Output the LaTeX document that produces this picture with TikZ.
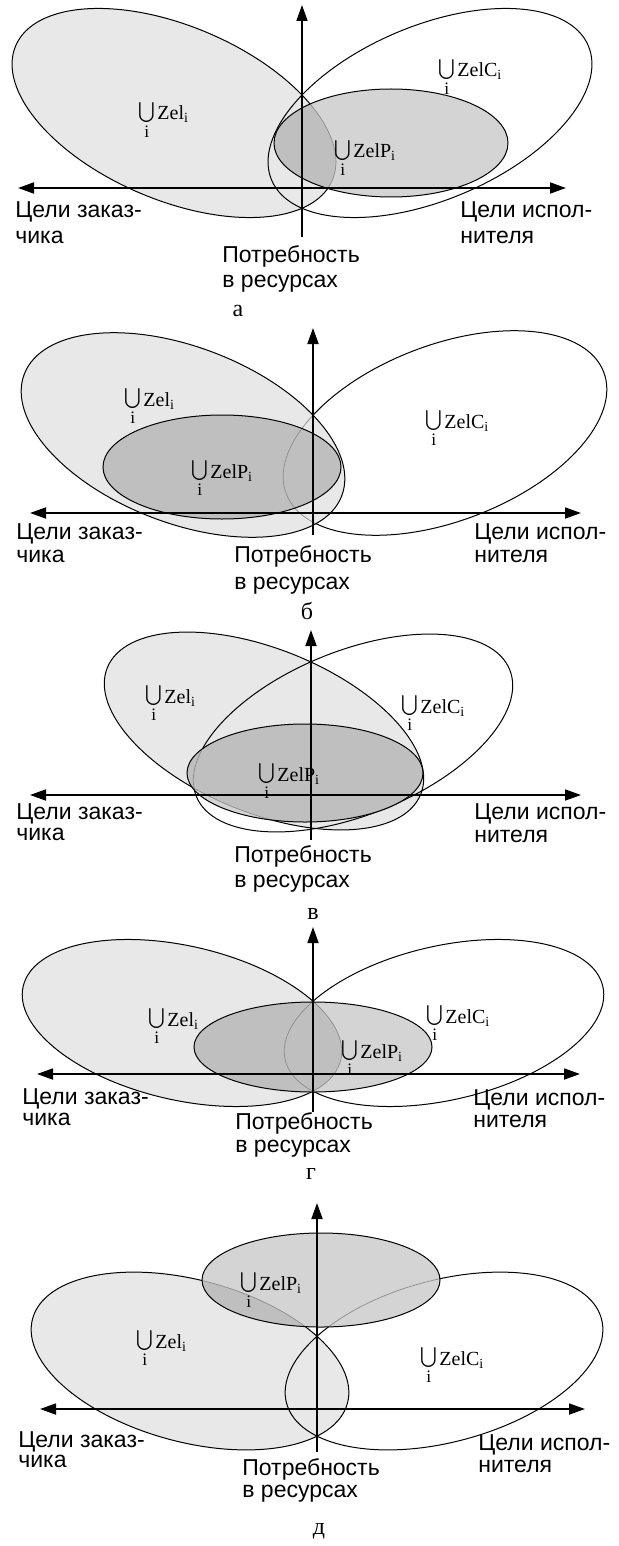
\documentclass[tikz,border=0pt]{standalone}
\usepackage{fontspec}
\setmainfont{Liberation Serif}
\newfontfamily\axfont{Liberation Sans}
\usetikzlibrary{arrows.meta}
\newcommand{\Ell}[5]{\path[#5,rotate around={#4:(#1)}] (#1) ellipse [x radius=#2, y radius=#3];}
\newcommand{\Un}[1]{\begingroup\fontsize{12.5}{14}\selectfont\raisebox{0.8pt}{$\bigcup\limits_{\mathrm{i}}$}\endgroup\hspace{1.2pt}#1\textsubscript{i}}
% panel a
\newcommand{\ZelA}[1]{\Ell{aZc}{86pt}{43.5pt}{-23}{#1}}
\newcommand{\ZelCA}[1]{\Ell{aCc}{86pt}{43.5pt}{23}{#1}}
\newcommand{\ZelPA}[1]{\Ell{aPc}{58.5pt}{27pt}{0}{#1}}
% panel b
\newcommand{\ZelB}[1]{\Ell{bZc}{85pt}{44pt}{-21}{#1}}
\newcommand{\ZelCB}[1]{\Ell{bCc}{85pt}{44pt}{21}{#1}}
\newcommand{\ZelPB}[1]{\Ell{bPc}{59.5pt}{26pt}{0}{#1}}
% panel c
\newcommand{\ZelV}[1]{\Ell{cZc}{84.5pt}{41pt}{-22}{#1}}
\newcommand{\ZelCV}[1]{\Ell{cCc}{84.5pt}{41pt}{22}{#1}}
\newcommand{\ZelPV}[1]{\Ell{cPc}{59pt}{24.5pt}{0}{#1}}
% panel d
\newcommand{\ZelG}[1]{\Ell{dZc}{81.5pt}{38.5pt}{-13}{#1}}
\newcommand{\ZelCG}[1]{\Ell{dCc}{81.5pt}{38.5pt}{13}{#1}}
\newcommand{\ZelPG}[1]{\Ell{dPc}{59.5pt}{22.5pt}{0}{#1}}
% panel e
\newcommand{\ZelD}[1]{\Ell{eZc}{81.5pt}{40.5pt}{-15}{#1}}
\newcommand{\ZelCD}[1]{\Ell{eCc}{81.5pt}{40.5pt}{15}{#1}}
\newcommand{\ZelPD}[1]{\Ell{ePc}{59.5pt}{23.5pt}{0}{#1}}
\begin{document}
\begin{tikzpicture}[x=0.5pt,y=-0.5pt,
  zelfill/.style={fill=black!9},
  outl/.style={draw=black,line width=0.5pt},
  faded/.style={draw=black!45,line width=0.35pt},
  pw/.style={fill=black!17},
  pz/.style={fill=black!25},
  haxis/.style={line width=0.9pt,{Triangle[length=8pt,width=5.5pt]}-{Triangle[length=8pt,width=5.5pt]}},
  vaxis/.style={line width=0.9pt,-{Triangle[length=8pt,width=5.5pt]}},
  axl/.style={font=\axfont\fontsize{11.5}{13}\selectfont,anchor=base west,inner sep=0pt},
  ulbl/.style={font=\fontsize{10}{12}\selectfont,anchor=base west,inner sep=0pt},
  plbl/.style={font=\fontsize{12}{14}\selectfont,anchor=base,inner sep=0pt}]
\fill[white] (0,0) rectangle (618,1546);
\useasboundingbox (0,0) rectangle (618,1546);

% ================= panel a =================
\coordinate (aZc) at (174,113);
\coordinate (aCc) at (430,113);
\coordinate (aPc) at (391,143);
\ZelA{zelfill}
\ZelA{outl}
\ZelCA{outl}
\ZelPA{pw}
\begin{scope}\ZelA{clip}\ZelPA{pz}\end{scope}
\begin{scope}\ZelPA{clip}\ZelA{faded}\ZelCA{faded}\end{scope}
\ZelPA{outl}
\coordinate (aHL) at (18,188);
\coordinate (aHR) at (566,188);
\coordinate (aVB) at (302,237);
\coordinate (aVT) at (302,5);
\draw[haxis] (aHL) -- (aHR);
\draw[vaxis] (aVB) -- (aVT);
\node[ulbl] (aLz) at (138,120) {\Un{Zel}};
\node[ulbl] (aLc) at (438,77) {\Un{ZelC}};
\node[ulbl] (aLp) at (334,158) {\Un{ZelP}};
\node[axl] (aT1) at (15,218) {Цели заказ-};
\node[axl] (aT2) at (15,243) {чика};
\node[axl] (aT3) at (460,218) {Цели испол-};
\node[axl] (aT4) at (460,243) {нителя};
\node[axl] (aT5) at (222,263) {Потребность};
\node[axl] (aT6) at (222,287) {в ресурсах};
\node[plbl] (aN) at (238,316) {а};

% ================= panel b =================
\coordinate (bZc) at (183,435);
\coordinate (bCc) at (445,433);
\coordinate (bPc) at (222,467);
\ZelCB{outl}
\ZelB{zelfill}
\begin{scope}\ZelB{clip}\ZelCB{faded}\end{scope}
\ZelB{outl}
\ZelPB{pw}
\begin{scope}\ZelB{clip}\ZelPB{pz}\end{scope}
\begin{scope}\ZelPB{clip}\ZelB{faded}\ZelCB{faded}\end{scope}
\ZelPB{outl}
\coordinate (bHL) at (30,513);
\coordinate (bHR) at (581,513);
\coordinate (bVB) at (313,535);
\coordinate (bVT) at (313,328);
\draw[haxis] (bHL) -- (bHR);
\draw[vaxis] (bVB) -- (bVT);
\node[ulbl] (bLz) at (124,406) {\Un{Zel}};
\node[ulbl] (bLc) at (425,428) {\Un{ZelC}};
\node[ulbl] (bLp) at (191,478) {\Un{ZelP}};
\node[axl] (bT1) at (16,539) {Цели заказ-};
\node[axl] (bT2) at (16,562) {чика};
\node[axl] (bT3) at (474,539) {Цели испол-};
\node[axl] (bT4) at (474,562) {нителя};
\node[axl] (bT5) at (234,562) {Потребность};
\node[axl] (bT6) at (234,589) {в ресурсах};
\node[plbl] (bN) at (307,619) {б};

% ================= panel c =================
\coordinate (cZc) at (264,731);
\coordinate (cCc) at (353,733);
\coordinate (cPc) at (305,773);
\ZelV{zelfill}
\ZelV{outl}
\ZelCV{outl}
\ZelPV{pw}
\begin{scope}\ZelV{clip}\ZelPV{pz}\end{scope}
\begin{scope}\ZelPV{clip}\ZelV{faded}\ZelCV{faded}\end{scope}
\ZelPV{outl}
\coordinate (cHL) at (30,795);
\coordinate (cHR) at (581,795);
\coordinate (cVB) at (311,840);
\coordinate (cVT) at (311,630);
\draw[haxis] (cHL) -- (cHR);
\draw[vaxis] (cVB) -- (cVT);
\node[ulbl] (cLz) at (145,703) {\Un{Zel}};
\node[ulbl] (cLc) at (401,713) {\Un{ZelC}};
\node[ulbl] (cLp) at (258,781) {\Un{ZelP}};
\node[axl] (cT1) at (16,819) {Цели заказ-};
\node[axl] (cT2) at (16,840) {чика};
\node[axl] (cT3) at (474,819) {Цели испол-};
\node[axl] (cT4) at (474,842) {нителя};
\node[axl] (cT5) at (234,862) {Потребность};
\node[axl] (cT6) at (234,887) {в ресурсах};
\node[plbl] (cN) at (313,919) {в};

% ================= panel d =================
\coordinate (dZc) at (182,1023);
\coordinate (dCc) at (444,1023);
\coordinate (dPc) at (313,1047);
\ZelG{zelfill}
\ZelG{outl}
\ZelCG{outl}
\ZelPG{pw}
\begin{scope}\ZelG{clip}\ZelPG{pz}\end{scope}
\begin{scope}\ZelPG{clip}\ZelG{faded}\ZelCG{faded}\end{scope}
\ZelPG{outl}
\coordinate (dHL) at (37,1074);
\coordinate (dHR) at (580,1074);
\coordinate (dVB) at (313,1112);
\coordinate (dVT) at (313,927);
\draw[haxis] (dHL) -- (dHR);
\draw[vaxis] (dVB) -- (dVT);
\node[ulbl] (dLz) at (148,1026) {\Un{Zel}};
\node[ulbl] (dLc) at (426,1023) {\Un{ZelC}};
\node[ulbl] (dLp) at (341,1058) {\Un{ZelP}};
\node[axl] (dT1) at (22,1104) {Цели заказ-};
\node[axl] (dT2) at (22,1125) {чика};
\node[axl] (dT3) at (473,1105) {Цели испол-};
\node[axl] (dT4) at (473,1127) {нителя};
\node[axl] (dT5) at (235,1129) {Потребность};
\node[axl] (dT6) at (235,1152) {в ресурсах};
\node[plbl] (dN) at (311,1179) {г};

% ================= panel e =================
\coordinate (eZc) at (190,1361);
\coordinate (eCc) at (444,1361);
\coordinate (ePc) at (321,1280);
\ZelD{zelfill}
\ZelD{outl}
\ZelCD{outl}
\ZelPD{pw}
\begin{scope}\ZelD{clip}\ZelPD{pz}\end{scope}
\begin{scope}\ZelPD{clip}\ZelD{faded}\ZelCD{faded}\end{scope}
\ZelPD{outl}
\coordinate (eHL) at (40,1409);
\coordinate (eHR) at (585,1409);
\coordinate (eVB) at (317,1452);
\coordinate (eVT) at (317,1203);
\draw[haxis] (eHL) -- (eHR);
\draw[vaxis] (eVB) -- (eVT);
\node[ulbl] (eLz) at (136,1348) {\Un{Zel}};
\node[ulbl] (eLc) at (420,1365) {\Un{ZelC}};
\node[ulbl] (eLp) at (240,1290) {\Un{ZelP}};
\node[axl] (eT1) at (18,1447) {Цели заказ-};
\node[axl] (eT2) at (18,1467) {чика};
\node[axl] (eT3) at (478,1450) {Цели испол-};
\node[axl] (eT4) at (478,1472) {нителя};
\node[axl] (eT5) at (242,1475) {Потребность};
\node[axl] (eT6) at (242,1497) {в ресурсах};
\node[plbl] (eN) at (319,1534) {д};
\end{tikzpicture}
\end{document}
